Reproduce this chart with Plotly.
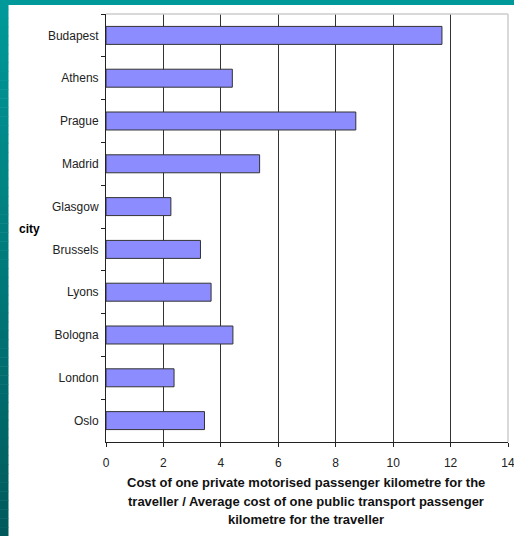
import plotly.graph_objects as go

# Cost ratio: private motorised vs public transport, per passenger kilometre
cities = ["Budapest", "Athens", "Prague", "Madrid", "Glasgow",
          "Brussels", "Lyons", "Bologna", "London", "Oslo"]
ratios = [11.7, 4.4, 8.7, 5.35, 2.26, 3.29, 3.66, 4.42, 2.37, 3.43]
x_ticks = [0, 2, 4, 6, 8, 10, 12, 14]
x_title_lines = [
    "Cost of one private motorised passenger kilometre for the",
    "traveller / Average cost of one public transport passenger",
    "kilometre for the traveller",
]

W, H = 514, 536
ML, MR, MT, MB = 106, 6, 14, 94
PW = W - ML - MR
PH = H - MT - MB


def px_x(px):
    return (px - ML) / PW


def px_y(py):
    return 1 - (py - MT) / PH


fig = go.Figure(go.Bar(
    x=ratios,
    y=cities,
    orientation="h",
    marker=dict(color="#8c8cff", line=dict(color="#333333", width=1)),
    width=0.42,
))

shapes = []
# teal frame: solid strip along the top, vertical gradient down the left edge
shapes.append(dict(type="rect", xref="paper", yref="paper", layer="below",
                   x0=px_x(0), x1=px_x(W), y0=px_y(5), y1=px_y(0),
                   fillcolor="#009999", line=dict(width=0)))
n = 60
top = (0, 153, 153)
bot = (0, 90, 92)
for i in range(n):
    t = i / (n - 1)
    c = tuple(round(a + (b - a) * t) for a, b in zip(top, bot))
    y0 = i * H / n
    y1 = (i + 1) * H / n + 0.5
    shapes.append(dict(type="rect", xref="paper", yref="paper", layer="below",
                       x0=px_x(0), x1=px_x(8.5), y0=px_y(y1), y1=px_y(y0),
                       fillcolor="rgb(%d,%d,%d)" % c, line=dict(width=0)))
# light plot border on top and right
shapes.append(dict(type="line", xref="paper", yref="paper",
                   x0=0, x1=1, y0=1, y1=1, line=dict(color="#cccccc", width=1.5)))
shapes.append(dict(type="line", xref="paper", yref="paper",
                   x0=1, x1=1, y0=0, y1=1, line=dict(color="#cccccc", width=1.5)))

annotations = [dict(text="<b>city</b>", xref="paper", yref="paper",
                    x=px_x(29), y=px_y(229), xanchor="center", yanchor="middle",
                    showarrow=False,
                    font=dict(family="Liberation Sans, Arial", size=12, color="#000"))]
for i, line in enumerate(x_title_lines):
    annotations.append(dict(text="<b>%s</b>" % line, xref="paper", yref="paper",
                            x=px_x(306), y=px_y(483 + 18 * i),
                            xanchor="center", yanchor="middle", showarrow=False,
                            font=dict(family="Liberation Sans, Arial", size=13, color="#111")))

fig.update_layout(
    width=W, height=H,
    margin=dict(l=ML, r=MR, t=MT, b=MB),
    paper_bgcolor="white",
    plot_bgcolor="white",
    showlegend=False,
    shapes=shapes,
    annotations=annotations,
    font=dict(family="Liberation Sans, Arial", size=12, color="#222"),
    xaxis=dict(range=[0, 14], tickvals=x_ticks, showgrid=True,
               gridcolor="#333333", gridwidth=1, zeroline=False,
               showline=True, linecolor="#222", linewidth=1,
               ticks="outside", ticklen=4, tickcolor="#222",
               ticklabelstandoff=6, ticklabeloverflow="allow",
               automargin=False,
               tickfont=dict(size=12, color="#222")),
    yaxis=dict(autorange="reversed", showgrid=False, showline=True,
               linecolor="#222", linewidth=1, ticks="outside", ticklen=4,
               tickcolor="#222", tickson="boundaries", ticklabelstandoff=4,
               automargin=False,
               tickfont=dict(size=12, color="#222")),
)

fig.write_html("out.html")
